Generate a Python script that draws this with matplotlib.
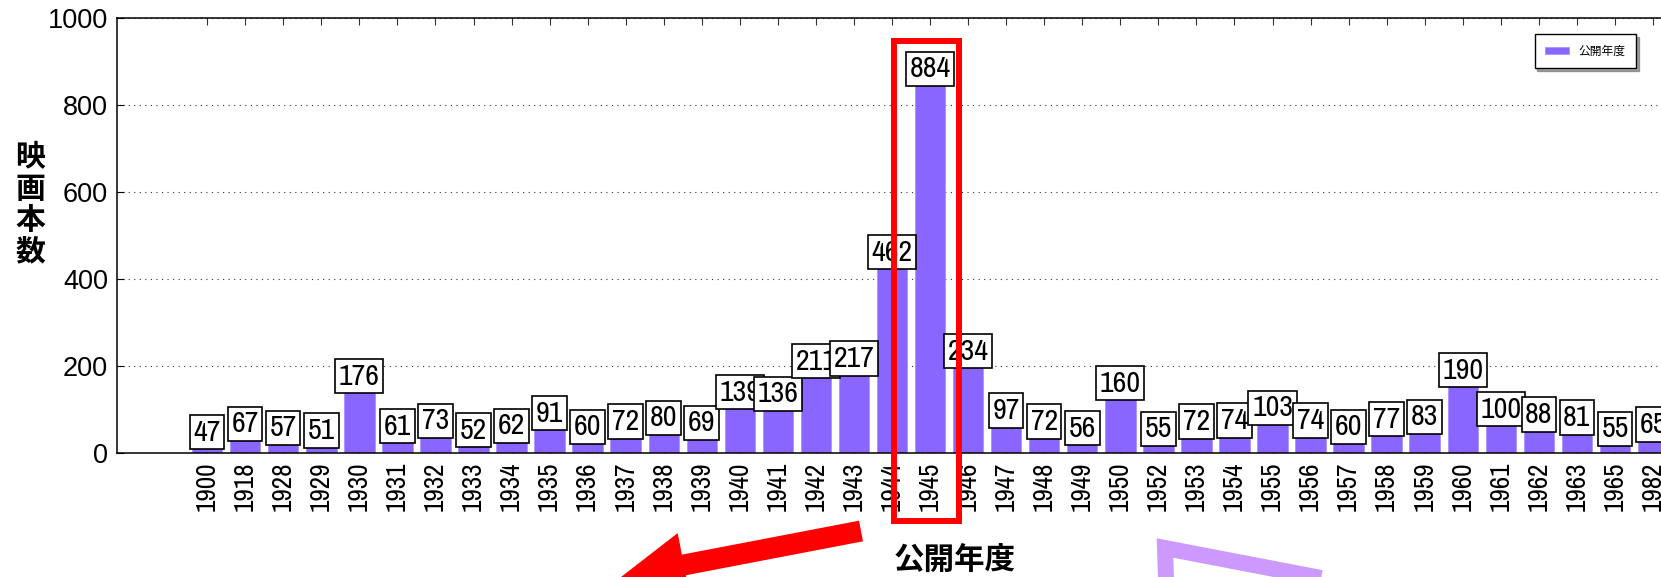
import matplotlib
matplotlib.use("Agg")
import matplotlib.pyplot as plt
from matplotlib import font_manager
from matplotlib.font_manager import FontProperties
from matplotlib.transforms import Affine2D
from matplotlib.patches import FancyArrow, Rectangle
from matplotlib.lines import Line2D
import numpy as np

years = ["1900", "1918", "1928", "1929", "1930", "1931", "1932", "1933", "1934",
         "1935", "1936", "1937", "1938", "1939", "1940", "1941", "1942", "1943",
         "1944", "1945", "1946", "1947", "1948", "1949", "1950", "1952", "1953",
         "1954", "1955", "1956", "1957", "1958", "1959", "1960", "1961", "1962",
         "1963", "1965", "1982"]
counts = [47, 67, 57, 51, 176, 61, 73, 52, 62,
          91, 60, 72, 80, 69, 139, 136, 211, 217,
          462, 884, 234, 97, 72, 56, 160, 55, 72,
          74, 103, 74, 60, 77, 83, 190, 100, 88,
          81, 55, 65]
highlight = "1945"


def narrow_font():
    # look for a narrow / condensed regular face for the numbers
    regular = lambda f: f.style == "normal" and f.weight in (400, "normal", "regular", "book")
    fonts = font_manager.fontManager.ttflist
    for f in fonts:
        if "Narrow" in f.name and regular(f):
            return f.fname
    for name in ["Noto Sans", "Open Sans", "Roboto", "DejaVu Sans", "Liberation Sans", "Inter", "Lato"]:
        for f in fonts:
            if f.name == name and f.stretch == "condensed" and regular(f):
                return f.fname
    for f in fonts:
        if f.stretch == "condensed" and regular(f):
            return f.fname
    return None


nf = narrow_font()
if nf:
    num_font = lambda size: FontProperties(fname=nf, size=size)
    label_size, tick_size = 21.5, 19.5
else:
    num_font = lambda size: FontProperties(family="Liberation Sans", size=size)
    label_size, tick_size = 18, 17
jp = ["Noto Sans CJK JP", "DejaVu Sans"]

W, H = 1661, 577
fig = plt.figure(figsize=(W / 100, H / 100), dpi=100)
# pixel coordinates, origin top-left
px = Affine2D().scale(1 / W, -1 / H).translate(0, 1) + fig.transFigure

ax = fig.add_axes([117 / W, 1 - 452.7 / H, (1793 - 117) / W, (452.7 - 18.3) / H])
x = np.arange(len(years))
ax.bar(x, counts, width=0.8, color="#8866ff", edgecolor="#a58cff", linewidth=0.5,
       label="公開年度", zorder=2)

for xi, v in zip(x, counts):
    ax.text(xi, v, str(v), ha="center", va="center", fontproperties=num_font(label_size),
            zorder=4, bbox=dict(boxstyle="square,pad=0.12", fc="white", ec="black", lw=1.2))

ax.set_xlim(-2.37, 41.68)
ax.set_ylim(0, 1000)
ax.set_yticks([0, 200, 400, 600, 800, 1000])
ax.set_xticks(x)
ax.set_xticklabels(years, rotation=90, fontproperties=num_font(tick_size))
for lab in ax.get_yticklabels():
    lab.set_family("Liberation Sans")
    lab.set_fontsize(19.5)
ax.tick_params(axis="x", direction="in", length=5, width=0.8, top=True, pad=6.5, color="#333333")
ax.tick_params(axis="y", direction="in", length=5, width=0.8, right=True, pad=6.5)
ax.yaxis.grid(True, linestyle=(0, (1, 4)), linewidth=0.8, color="#333333", zorder=1)
ax.set_axisbelow(True)
for s in ax.spines.values():
    s.set_linewidth(1.1)

leg = ax.legend(loc="upper right", bbox_to_anchor=(1636 / W, 1 - 34 / H),
                bbox_transform=fig.transFigure, borderaxespad=0, shadow=True,
                fancybox=False, prop={"family": jp, "size": 8.5},
                handlelength=2.0, handleheight=0.6, borderpad=0.9)
leg.get_frame().set_edgecolor("black")
leg.get_frame().set_linewidth(1.0)

# axis titles
for i, ch in enumerate("映画本数"):
    fig.text(30, 157 + 31.6 * i, ch, transform=px, ha="center", va="center",
             fontsize=21.5, fontweight="bold", family=jp)
fig.text(955, 560, "公開年度", transform=px, ha="center", va="center",
         fontsize=22, fontweight="bold", family=jp)

# red frame around the peak year
hi = years.index(highlight)
ax.add_patch(Rectangle((hi - 0.95, -157), 1.71, 1105, fill=False, ec="red",
                       lw=4.3, clip_on=False, zorder=5))

# red arrow pointing down-left
fig.add_artist(FancyArrow(861, 531, 621 - 861, 577 - 531, width=21, head_width=65,
                          head_length=64, length_includes_head=True,
                          color="red", lw=0, transform=px))

# light purple outlined arrow tip
fig.add_artist(Line2D([1167, 1165, 1420], [610, 548, 597], transform=px,
                      color="#cc99ff", lw=11.5, solid_joinstyle="miter",
                      solid_capstyle="butt"))

fig.savefig("out.png", dpi=100)
